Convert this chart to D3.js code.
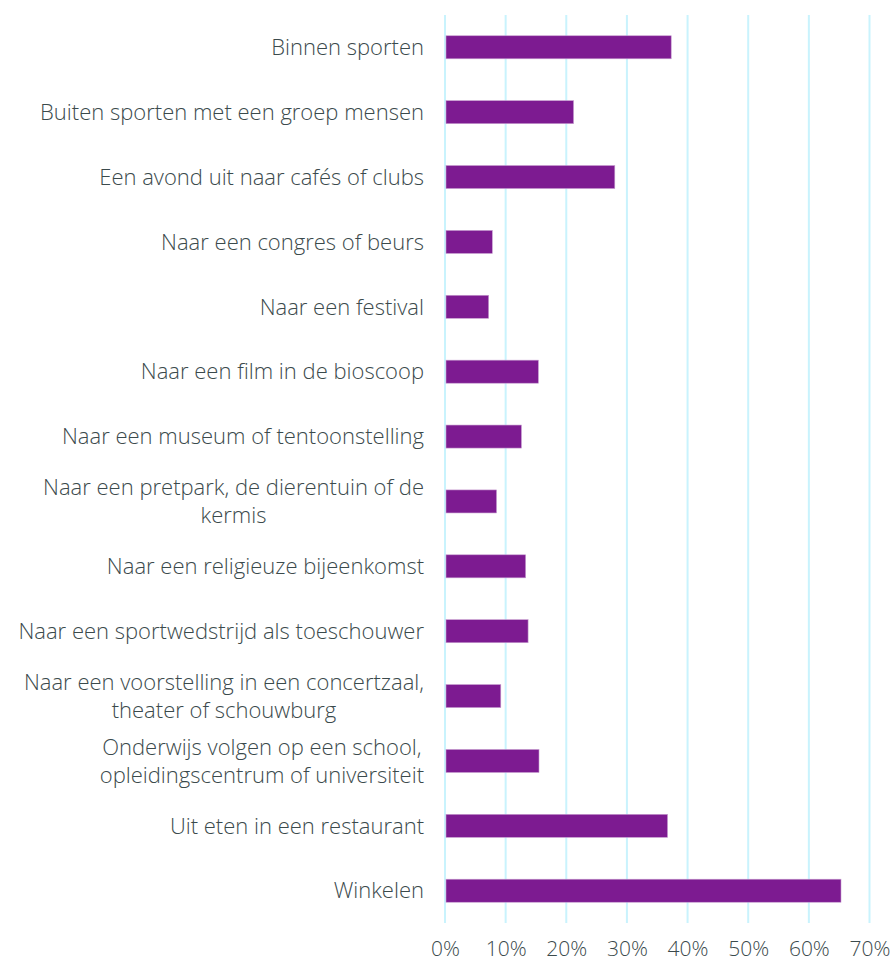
<!DOCTYPE html>
<html>
<head>
<meta charset="utf-8">
<script src="https://cdn.jsdelivr.net/npm/d3@7"></script>
<style>
  body { margin: 0; background: #fff; }
  text { font-family: "Open Sans", Lato, sans-serif; font-weight: 300; }
</style>
</head>
<body>
<div id="chart"></div>
<script>
// categories ("|" marks a line break in the label)
var categories = [
  "Binnen sporten",
  "Buiten sporten met een groep mensen",
  "Een avond uit naar cafés of clubs",
  "Naar een congres of beurs",
  "Naar een festival",
  "Naar een film in de bioscoop",
  "Naar een museum of tentoonstelling",
  "Naar een pretpark, de dierentuin of de|kermis",
  "Naar een religieuze bijeenkomst",
  "Naar een sportwedstrijd als toeschouwer",
  "Naar een voorstelling in een concertzaal,|theater of schouwburg",
  "Onderwijs volgen op een school,|opleidingscentrum of universiteit",
  "Uit eten in een restaurant",
  "Winkelen"
];
var values = [37.3, 21.2, 28.0, 7.8, 7.2, 15.4, 12.6, 8.5, 13.3, 13.7, 9.2, 15.5, 36.7, 65.3];
var ticks = [0, 10, 20, 30, 40, 50, 60, 70];

var svgWidth = 890;
var svgHeight = 962;

var margin = { top: 15, right: 20, bottom: 39, left: 445 };

var width = svgWidth - margin.left - margin.right;
var height = svgHeight - margin.top - margin.bottom;

var svg = d3.select("#chart")
  .append("svg")
  .attr("width", svgWidth)
  .attr("height", svgHeight);

var chartGroup = svg.append("g")
  .attr("transform", `translate(${margin.left}, ${margin.top})`);

var x = d3.scaleLinear()
  .domain([0, 70])
  .range([0, 424.5]);

var y = d3.scaleBand()
  .domain(categories)
  .range([0, height])
  .paddingInner(0.645)
  .paddingOuter(0.32);

// gridlines
chartGroup.selectAll(".grid")
  .data(ticks)
  .enter()
  .append("line")
  .attr("x1", d => x(d))
  .attr("x2", d => x(d))
  .attr("y1", 0)
  .attr("y2", height)
  .attr("stroke", "#c9f3fd")
  .attr("stroke-width", 2);

// bars
chartGroup.selectAll(".bar")
  .data(values)
  .enter()
  .append("rect")
  .attr("x", x(0) + 1)
  .attr("y", (d, i) => y(categories[i]))
  .attr("width", d => x(d) - x(0) - 1)
  .attr("height", y.bandwidth())
  .attr("fill", "#7d1b91")
  .attr("stroke", "#c79ed0")
  .attr("stroke-width", 0.6);

// x axis
var bottomAxis = d3.axisBottom(x)
  .tickValues(ticks)
  .tickFormat(d => d + "%")
  .tickSize(0)
  .tickPadding(18);

var xAxis = chartGroup.append("g")
  .attr("transform", `translate(0, ${height})`)
  .call(bottomAxis);

xAxis.select(".domain").remove();
xAxis.selectAll("text")
  .attr("font-size", "21px")
  .attr("fill", "#3b4a4c")
  .style("font-family", "'Open Sans', Lato, sans-serif")
  .style("font-weight", 300);

// category labels
var labelRight = -21;
var labelGroup = chartGroup.selectAll(".label")
  .data(categories)
  .enter()
  .append("g")
  .attr("transform", d => `translate(${labelRight}, ${y(d) + y.bandwidth() / 2})`);

labelGroup.each(function(d) {
  var g = d3.select(this);
  var lines = d.split("|");
  var lh = 28;
  var texts = lines.map(function(line, j) {
    return g.append("text")
      .attr("y", (j - (lines.length - 1) / 2) * lh)
      .attr("dy", "0.35em")
      .attr("font-size", "22px")
      .attr("fill", "#3b4a4c")
      .text(line);
  });
  if (lines.length === 1) {
    texts[0].attr("text-anchor", "end");
  } else {
    var w = d3.max(texts, t => t.node().getComputedTextLength());
    texts.forEach(t => t.attr("text-anchor", "middle").attr("x", -w / 2));
  }
});
</script>
</body>
</html>
